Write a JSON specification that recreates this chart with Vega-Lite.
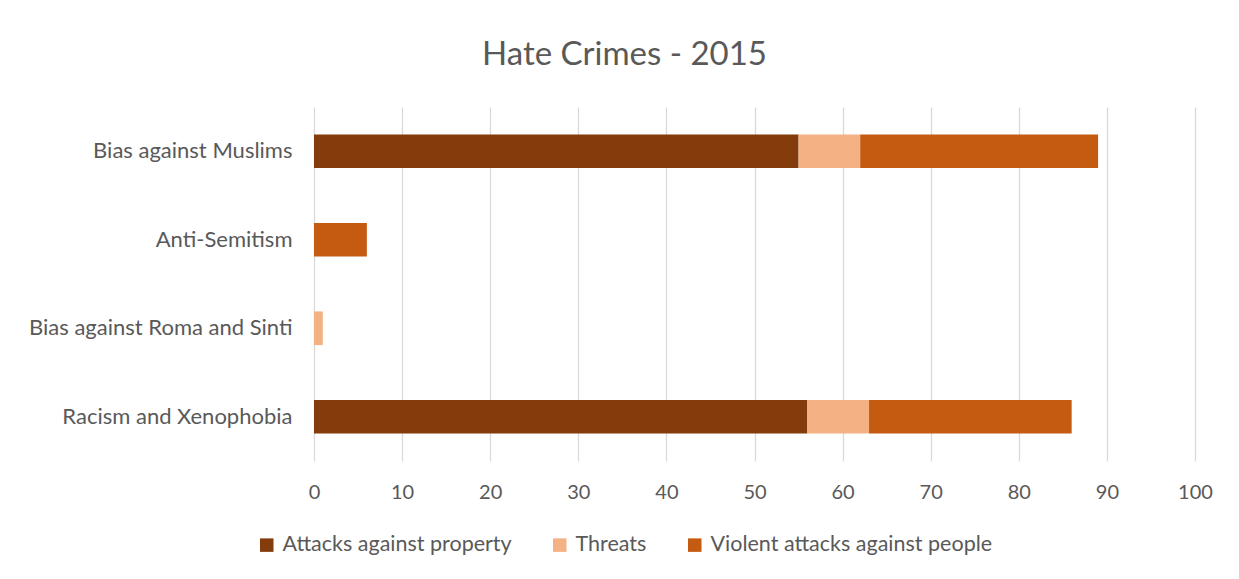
{
  "$schema": "https://vega.github.io/schema/vega-lite/v6.json",
  "width": 881,
  "height": 354,
  "autosize": {"type": "none"},
  "padding": {"left": 314, "top": 107, "right": 44, "bottom": 118},
  "background": "white",
  "title": {
    "text": "Hate Crimes - 2015",
    "font": "Lato",
    "fontSize": 33,
    "fontWeight": "normal",
    "color": "#595959",
    "anchor": "middle",
    "dx": -130,
    "offset": 35
  },
  "data": {
    "values": [
      {"category": "Bias against Muslims", "type": "Attacks against property", "value": 55},
      {"category": "Bias against Muslims", "type": "Threats", "value": 7},
      {"category": "Bias against Muslims", "type": "Violent attacks against people", "value": 27},
      {"category": "Anti-Semitism", "type": "Attacks against property", "value": 0},
      {"category": "Anti-Semitism", "type": "Threats", "value": 0},
      {"category": "Anti-Semitism", "type": "Violent attacks against people", "value": 6},
      {"category": "Bias against Roma and Sinti", "type": "Attacks against property", "value": 0},
      {"category": "Bias against Roma and Sinti", "type": "Threats", "value": 1},
      {"category": "Bias against Roma and Sinti", "type": "Violent attacks against people", "value": 0},
      {"category": "Racism and Xenophobia", "type": "Attacks against property", "value": 56},
      {"category": "Racism and Xenophobia", "type": "Threats", "value": 7},
      {"category": "Racism and Xenophobia", "type": "Violent attacks against people", "value": 23}
    ]
  },
  "mark": {"type": "bar"},
  "encoding": {
    "y": {
      "field": "category",
      "type": "nominal",
      "sort": ["Bias against Muslims", "Anti-Semitism", "Bias against Roma and Sinti", "Racism and Xenophobia"],
      "scale": {"paddingInner": 0.62, "paddingOuter": 0.31},
      "axis": {
        "title": null,
        "domain": false,
        "ticks": false,
        "labelFont": "Lato",
        "labelFontSize": 22,
        "labelColor": "#595959",
        "labelPadding": 22,
        "labelLimit": 400
      }
    },
    "x": {
      "field": "value",
      "type": "quantitative",
      "stack": "zero",
      "scale": {"domain": [0, 100], "nice": false},
      "axis": {
        "title": null,
        "values": [0, 10, 20, 30, 40, 50, 60, 70, 80, 90, 100],
        "domain": false,
        "ticks": false,
        "grid": true,
        "gridColor": "#D9D9D9",
        "gridWidth": 1.3,
        "labelFont": "Lato",
        "labelFontSize": 20,
        "labelColor": "#595959",
        "labelPadding": 21,
        "labelFlush": false
      }
    },
    "color": {
      "field": "type",
      "type": "nominal",
      "scale": {
        "domain": ["Attacks against property", "Threats", "Violent attacks against people"],
        "range": ["#843C0C", "#F4B183", "#C55A11"]
      },
      "legend": {
        "title": null,
        "orient": "none",
        "direction": "horizontal",
        "legendX": -58,
        "legendY": 427,
        "symbolType": "square",
        "symbolSize": 182,
        "symbolStrokeWidth": 0,
        "symbolOpacity": 1,
        "labelFont": "Lato",
        "labelFontSize": 21.5,
        "labelColor": "#595959",
        "labelOffset": 5,
        "columnPadding": 37,
        "labelLimit": 400
      }
    }
  },
  "config": {
    "view": {"stroke": null}
  }
}
